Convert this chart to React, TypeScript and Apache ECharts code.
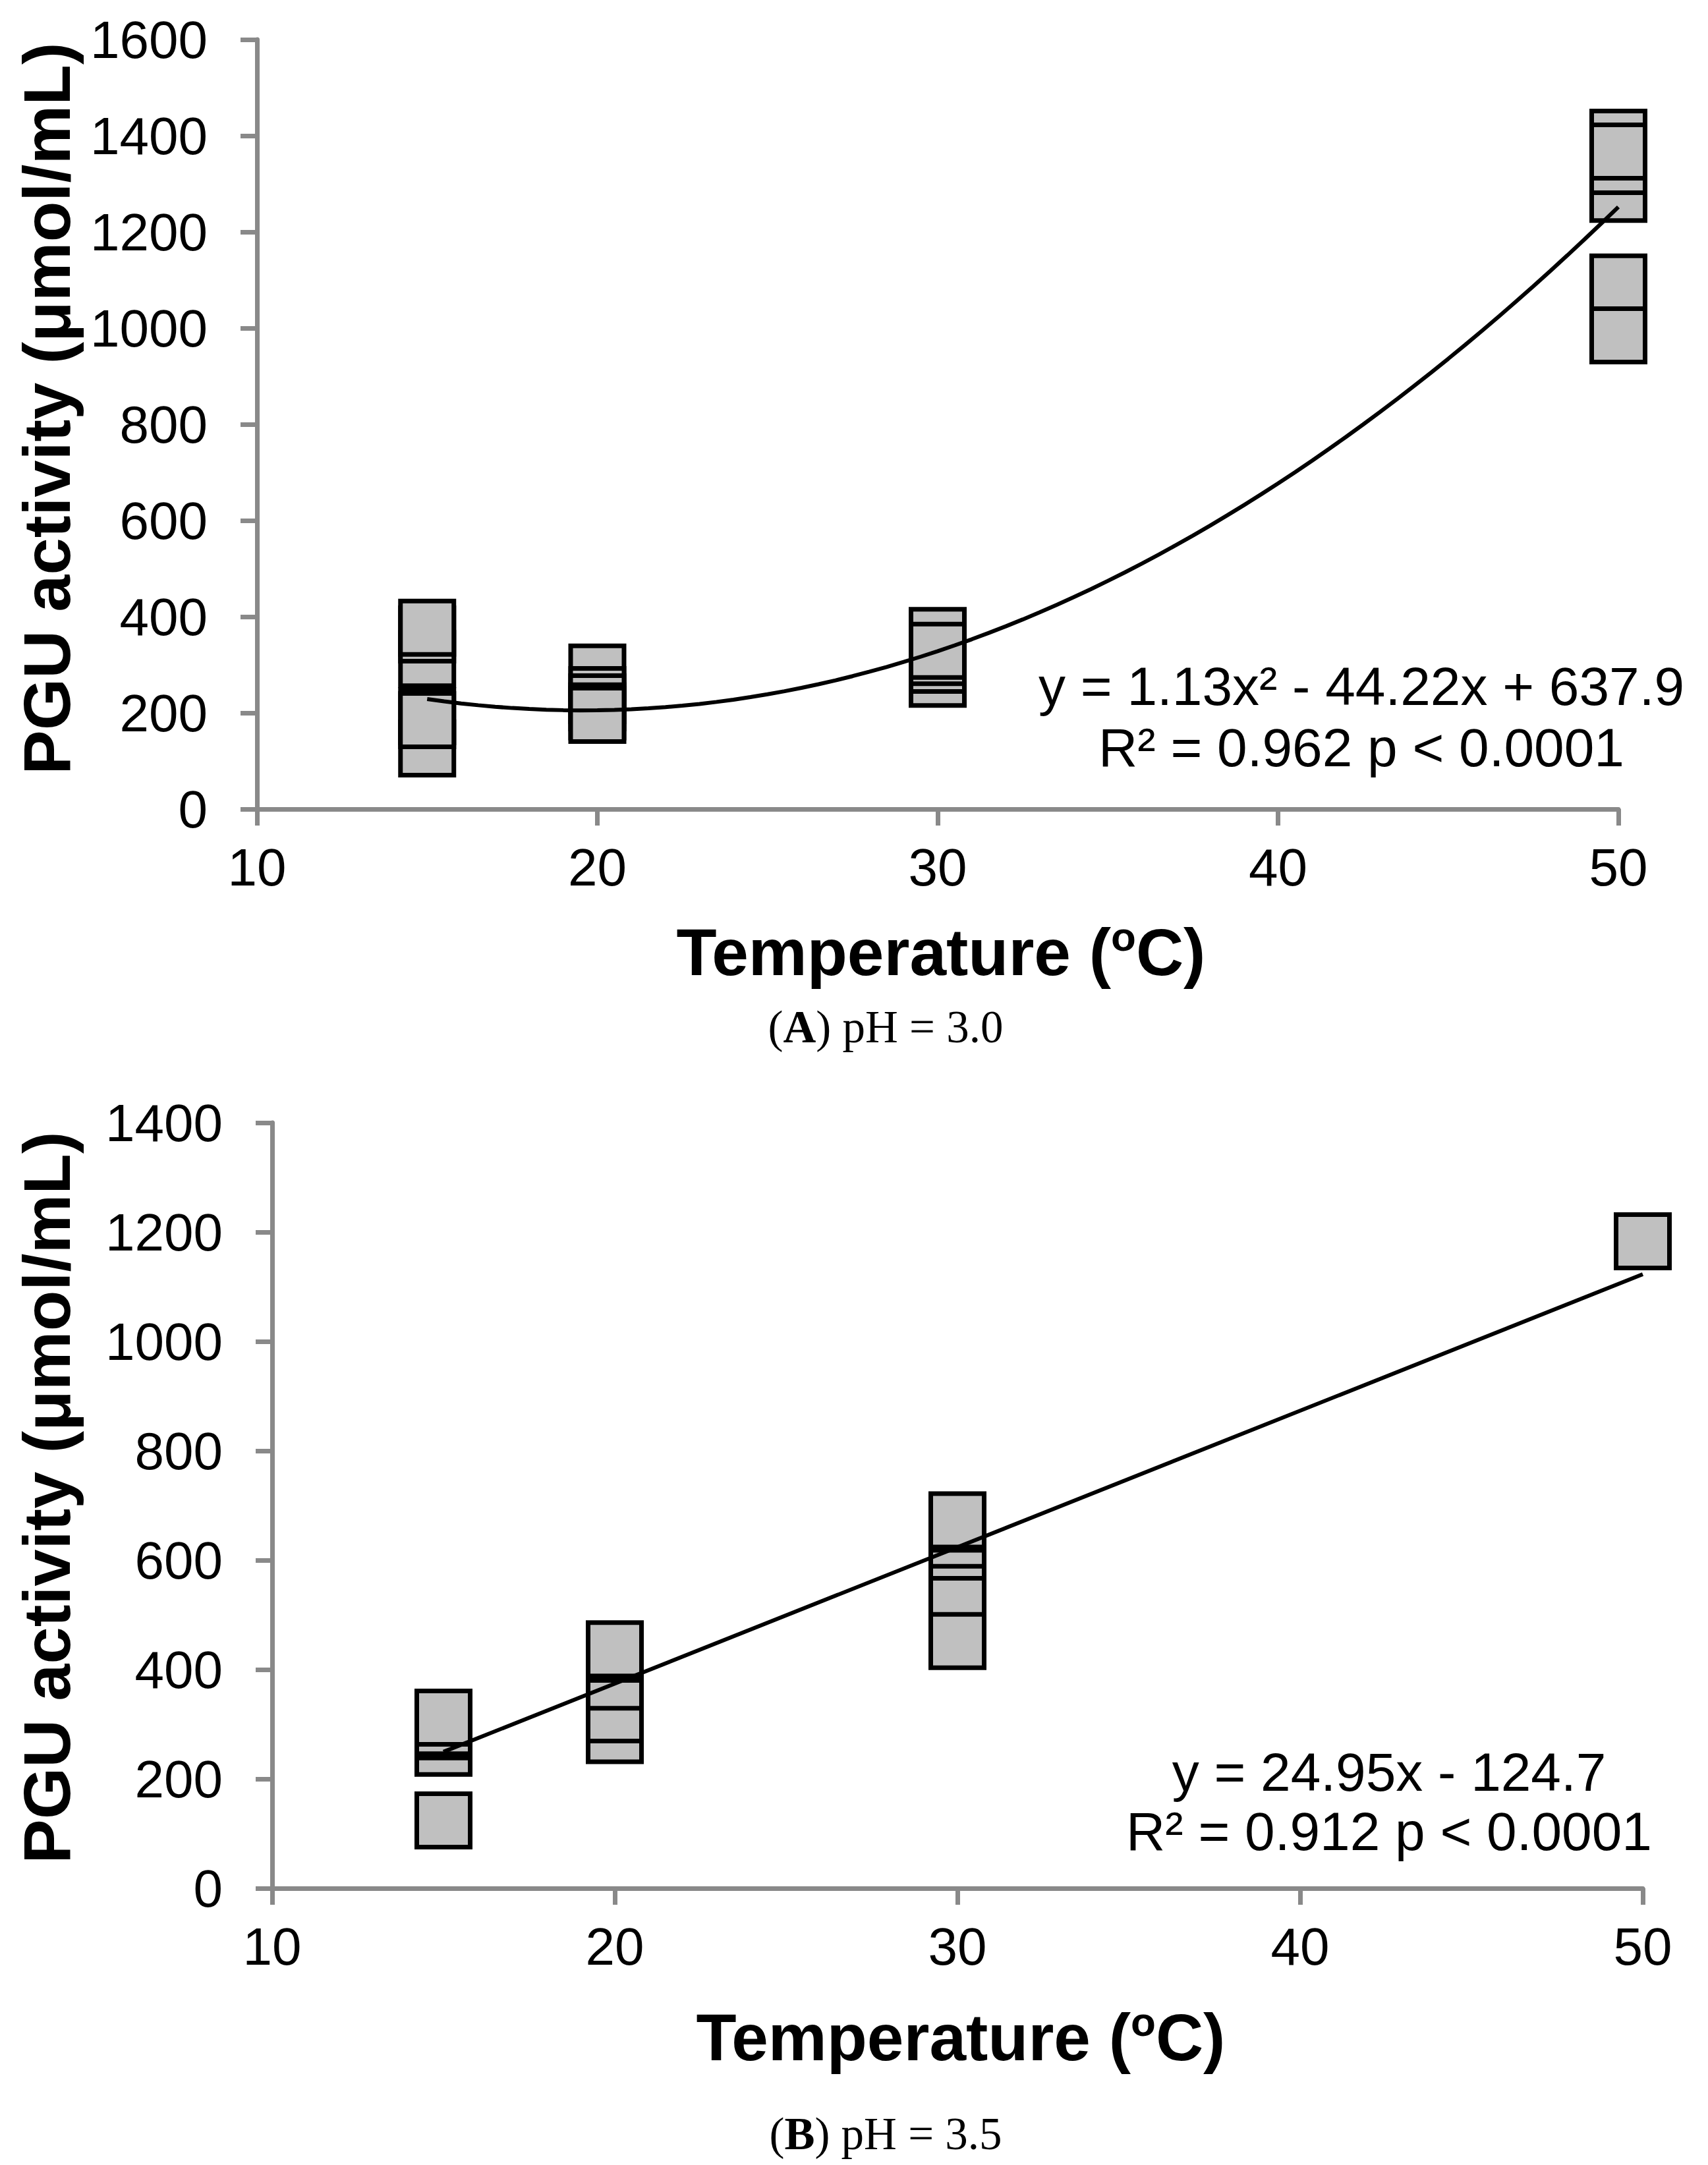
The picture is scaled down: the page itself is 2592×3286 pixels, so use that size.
import React, { useEffect, useRef } from "react";
import * as echarts from "echarts";

// Temperatures (°C) at which PGU activity was measured
const TEMPS_A = [15, 20, 30, 50];
const TEMPS_B = [15, 20, 30, 50];

// (A) pH = 3.0 — PGU activity (µmol/mL) replicates per temperature
const PGU_A_15 = [126, 312, 363, 377, 193, 185];
const PGU_A_20 = [284, 237, 222, 203, 196];
const PGU_A_30 = [360, 271, 300, 316, 329];
const PGU_A_50 = [1396, 1279, 1337, 1367, 1095, 985];

// (B) pH = 3.5
const PGU_B_15 = [124, 257, 287, 295, 312];
const PGU_B_20 = [280, 318, 378, 429, 437];
const PGU_B_30 = [629, 667, 673, 540, 518, 452];
const PGU_B_50 = [1183];

// Trendlines as printed on the chart
const TREND_A = [1.13, -44.22, 637.9]; // y = a x^2 + b x + c
const TREND_B = [24.95, -124.7]; // y = a x + b
const TREND_RANGE = [15, 50];

const X_TICKS = [10, 20, 30, 40, 50];
const Y_MAX_A = 1600;
const Y_MAX_B = 1400;

const EQ_A = ["y = 1.13x² - 44.22x + 637.9", "R² = 0.962 p < 0.0001"];
const EQ_B = ["y = 24.95x - 124.7", "R² = 0.912 p < 0.0001"];

function toPairs(temps: number[], groups: number[][]) {
  const out: number[][] = [];
  temps.forEach((t, i) => groups[i].forEach((v) => out.push([t, v])));
  return out;
}

function polyPoints(coef: number[], range: number[], step: number) {
  const pts: number[][] = [];
  for (let x = range[0]; x <= range[1] + 1e-9; x += step) {
    let y = 0;
    for (let k = 0; k < coef.length; k++) y = y * x + coef[k];
    pts.push([x, y]);
  }
  return pts;
}

const SANS = "Liberation Sans";
const SERIF = "Liberation Serif";
const AXIS_GRAY = "#898989";

function xAxisCfg(gridIndex: number) {
  return {
    type: "value",
    gridIndex,
    min: X_TICKS[0],
    max: X_TICKS[X_TICKS.length - 1],
    interval: 10,
    axisLine: { show: true, onZero: false, lineStyle: { color: AXIS_GRAY, width: 7 } },
    axisTick: { show: true, inside: false, length: 25, lineStyle: { color: AXIS_GRAY, width: 7 } },
    splitLine: { show: false },
    axisLabel: { color: "#000", fontFamily: SANS, fontSize: 80, margin: 48, formatter: (v: number) => String(v) },
  };
}

function yAxisCfg(gridIndex: number, max: number) {
  return {
    type: "value",
    gridIndex,
    min: 0,
    max,
    interval: 200,
    axisLine: { show: true, onZero: false, lineStyle: { color: AXIS_GRAY, width: 7 } },
    axisTick: { show: true, inside: false, length: 25, lineStyle: { color: AXIS_GRAY, width: 7 } },
    splitLine: { show: false },
    axisLabel: { color: "#000", fontFamily: SANS, fontSize: 80, margin: 75, formatter: (v: number) => String(v) },
  };
}

const markerStyle = { color: "#c0c0c0", borderColor: "#000", borderWidth: 7, opacity: 1 };

function titleTexts(yCenter: number, xTitle: number[], eq: string[], eqPos: number[], caption: string, capPos: number[], letter: string) {
  return [
    {
      type: "text",
      x: 71,
      y: yCenter,
      rotation: Math.PI / 2,
      style: {
        text: "PGU activity (μmol/mL)",
        fontFamily: SANS,
        fontWeight: "bold",
        fontSize: 101,
        fill: "#000",
        align: "center",
        verticalAlign: "middle",
      },
    },
    {
      type: "text",
      x: xTitle[0],
      y: xTitle[1],
      style: {
        text: "{n|Temperature (}{s|o}{n|C)}",
        fill: "#000",
        align: "center",
        verticalAlign: "middle",
        rich: {
          n: { fontFamily: SANS, fontWeight: "bold", fontSize: 100, fill: "#000", lineHeight: 110 },
          s: { fontFamily: SANS, fontWeight: "bold", fontSize: 62, fill: "#000", verticalAlign: "top", lineHeight: 70 },
        },
      },
    },
    {
      type: "text",
      x: eqPos[0],
      y: eqPos[1],
      style: { text: eq[0], fontFamily: SANS, fontSize: 82, fill: "#000", align: "center", verticalAlign: "middle" },
    },
    {
      type: "text",
      x: eqPos[0],
      y: eqPos[2],
      style: { text: eq[1], fontFamily: SANS, fontSize: 82, fill: "#000", align: "center", verticalAlign: "middle" },
    },
    {
      type: "text",
      x: capPos[0],
      y: capPos[1],
      style: {
        text: "{n|(}{b|" + letter + "}{n|) " + caption + "}",
        fill: "#000",
        align: "center",
        verticalAlign: "middle",
        rich: {
          n: { fontFamily: SERIF, fontSize: 69, fill: "#000" },
          b: { fontFamily: SERIF, fontWeight: "bold", fontSize: 69, fill: "#000" },
        },
      },
    },
  ];
}

export default function App() {
  const ref = useRef<HTMLDivElement>(null);
  useEffect(() => {
    document.body.style.margin = "0";
    if (!ref.current) return;
    const chart = echarts.init(ref.current, undefined, { renderer: "svg" });
    const dataA = toPairs(TEMPS_A, [PGU_A_15, PGU_A_20, PGU_A_30, PGU_A_50]);
    const dataB = toPairs(TEMPS_B, [PGU_B_15, PGU_B_20, PGU_B_30, PGU_B_50]);
    const trendA = polyPoints(TREND_A, TREND_RANGE, 0.5);
    const trendB = polyPoints(TREND_B, TREND_RANGE, 35);
    chart.setOption({
      animation: false,
      backgroundColor: "#fff",
      grid: [
        { left: 390, top: 60, width: 2066, height: 1168, outerBoundsMode: "none", containLabel: false },
        { left: 413, top: 1704, width: 2080, height: 1162, outerBoundsMode: "none", containLabel: false },
      ],
      xAxis: [xAxisCfg(0), xAxisCfg(1)],
      yAxis: [yAxisCfg(0, Y_MAX_A), yAxisCfg(1, Y_MAX_B)],
      series: [
        {
          type: "scatter",
          xAxisIndex: 0,
          yAxisIndex: 0,
          symbol: "rect",
          symbolSize: 81,
          itemStyle: markerStyle,
          data: dataA,
          z: 2,
        },
        {
          type: "line",
          xAxisIndex: 0,
          yAxisIndex: 0,
          data: trendA,
          showSymbol: false,
          symbol: "none",
          smooth: false,
          lineStyle: { color: "#000", width: 6 },
          z: 3,
        },
        {
          type: "scatter",
          xAxisIndex: 1,
          yAxisIndex: 1,
          symbol: "rect",
          symbolSize: 81,
          itemStyle: markerStyle,
          data: dataB,
          z: 2,
        },
        {
          type: "line",
          xAxisIndex: 1,
          yAxisIndex: 1,
          data: trendB,
          showSymbol: false,
          symbol: "none",
          lineStyle: { color: "#000", width: 6 },
          z: 3,
        },
      ],
      graphic: [
        ...titleTexts(620, [1428, 1445], EQ_A, [2066, 1041, 1134], "pH = 3.0", [1344, 1559], "A"),
        ...titleTexts(2273, [1458, 3092], EQ_B, [2108, 2689, 2779], "pH = 3.5", [1344, 3239], "B"),
      ],
    });
    return () => chart.dispose();
  }, []);
  return <div ref={ref} style={{ width: 2592, height: 3286 }} />;
}
